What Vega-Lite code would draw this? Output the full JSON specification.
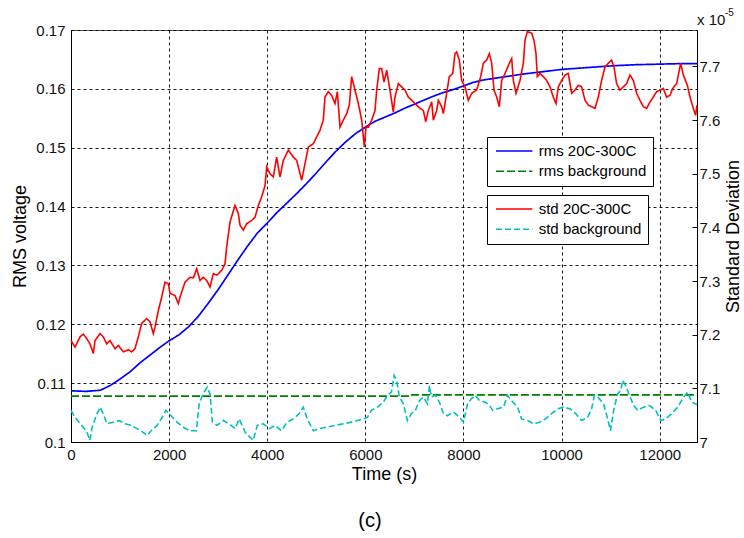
{
  "$schema": "https://vega.github.io/schema/vega-lite/v6.json",
  "width": 626,
  "height": 412,
  "autosize": {"type": "none"},
  "padding": {"left": 71, "top": 30, "right": 47, "bottom": 96},
  "background": "white",
  "title": {
    "text": "(c)",
    "orient": "bottom",
    "anchor": "middle",
    "font": "Liberation Sans",
    "fontSize": 20,
    "fontWeight": "normal",
    "color": "#000000",
    "offset": 28,
    "dx": -14
  },
  "config": {
    "font": "Liberation Sans",
    "view": {"stroke": "#555555", "strokeWidth": 1},
    "axis": {
      "labelFont": "Liberation Sans",
      "labelFontSize": 15,
      "labelColor": "#111111",
      "titleFont": "Liberation Sans",
      "titleFontSize": 18,
      "titleFontWeight": "normal",
      "titleColor": "#000000",
      "domainColor": "#000000",
      "tickColor": "#000000",
      "labelFlush": false
    },
    "legend": {
      "orient": "none",
      "symbolType": "M-2.6,0H2.6",
      "symbolSize": 196,
      "symbolOffset": 13.2,
      "symbolStrokeWidth": 1.6,
      "labelFont": "Liberation Sans",
      "labelFontSize": 15,
      "labelColor": "#000000",
      "labelOffset": 16.5,
      "padding": 6,
      "rowPadding": 4.3,
      "strokeColor": "#000000",
      "fillColor": "#ffffff"
    }
  },
  "datasets": {
    "rms": [
      {"series": "rms 20C-300C", "t": 0, "v": 0.1087},
      {"series": "rms 20C-300C", "t": 300, "v": 0.1086},
      {"series": "rms 20C-300C", "t": 600, "v": 0.1088},
      {"series": "rms 20C-300C", "t": 800, "v": 0.1096},
      {"series": "rms 20C-300C", "t": 1000, "v": 0.1107},
      {"series": "rms 20C-300C", "t": 1200, "v": 0.1119},
      {"series": "rms 20C-300C", "t": 1400, "v": 0.1134},
      {"series": "rms 20C-300C", "t": 1600, "v": 0.1147},
      {"series": "rms 20C-300C", "t": 1800, "v": 0.1160},
      {"series": "rms 20C-300C", "t": 2000, "v": 0.1172},
      {"series": "rms 20C-300C", "t": 2200, "v": 0.1182},
      {"series": "rms 20C-300C", "t": 2400, "v": 0.1196},
      {"series": "rms 20C-300C", "t": 2600, "v": 0.1214},
      {"series": "rms 20C-300C", "t": 2800, "v": 0.1236},
      {"series": "rms 20C-300C", "t": 3000, "v": 0.1259},
      {"series": "rms 20C-300C", "t": 3200, "v": 0.1284},
      {"series": "rms 20C-300C", "t": 3400, "v": 0.1309},
      {"series": "rms 20C-300C", "t": 3600, "v": 0.1333},
      {"series": "rms 20C-300C", "t": 3800, "v": 0.1355},
      {"series": "rms 20C-300C", "t": 4000, "v": 0.1372},
      {"series": "rms 20C-300C", "t": 4200, "v": 0.1390},
      {"series": "rms 20C-300C", "t": 4400, "v": 0.1406},
      {"series": "rms 20C-300C", "t": 4600, "v": 0.1422},
      {"series": "rms 20C-300C", "t": 4800, "v": 0.1439},
      {"series": "rms 20C-300C", "t": 5000, "v": 0.1457},
      {"series": "rms 20C-300C", "t": 5200, "v": 0.1476},
      {"series": "rms 20C-300C", "t": 5400, "v": 0.1494},
      {"series": "rms 20C-300C", "t": 5600, "v": 0.1510},
      {"series": "rms 20C-300C", "t": 5800, "v": 0.1524},
      {"series": "rms 20C-300C", "t": 6000, "v": 0.1535},
      {"series": "rms 20C-300C", "t": 6200, "v": 0.1545},
      {"series": "rms 20C-300C", "t": 6400, "v": 0.1552},
      {"series": "rms 20C-300C", "t": 6600, "v": 0.1559},
      {"series": "rms 20C-300C", "t": 6800, "v": 0.1567},
      {"series": "rms 20C-300C", "t": 7000, "v": 0.1574},
      {"series": "rms 20C-300C", "t": 7200, "v": 0.1581},
      {"series": "rms 20C-300C", "t": 7400, "v": 0.1588},
      {"series": "rms 20C-300C", "t": 7600, "v": 0.1594},
      {"series": "rms 20C-300C", "t": 7800, "v": 0.1599},
      {"series": "rms 20C-300C", "t": 8000, "v": 0.1605},
      {"series": "rms 20C-300C", "t": 8200, "v": 0.1611},
      {"series": "rms 20C-300C", "t": 8400, "v": 0.1615},
      {"series": "rms 20C-300C", "t": 8800, "v": 0.1620},
      {"series": "rms 20C-300C", "t": 9200, "v": 0.1625},
      {"series": "rms 20C-300C", "t": 9600, "v": 0.1629},
      {"series": "rms 20C-300C", "t": 10000, "v": 0.1633},
      {"series": "rms 20C-300C", "t": 10500, "v": 0.1636},
      {"series": "rms 20C-300C", "t": 11000, "v": 0.1639},
      {"series": "rms 20C-300C", "t": 11500, "v": 0.1641},
      {"series": "rms 20C-300C", "t": 12000, "v": 0.1642},
      {"series": "rms 20C-300C", "t": 12500, "v": 0.1643},
      {"series": "rms 20C-300C", "t": 12760, "v": 0.1643},
      {"series": "rms background", "t": 0, "v": 0.1078},
      {"series": "rms background", "t": 6900, "v": 0.1078},
      {"series": "rms background", "t": 6901, "v": 0.1080},
      {"series": "rms background", "t": 12760, "v": 0.1080}
    ],
    "std": [
      {"series": "std 20C-300C", "t": 0, "v": 7.189},
      {"series": "std 20C-300C", "t": 82, "v": 7.177},
      {"series": "std 20C-300C", "t": 183, "v": 7.196},
      {"series": "std 20C-300C", "t": 251, "v": 7.201},
      {"series": "std 20C-300C", "t": 319, "v": 7.193},
      {"series": "std 20C-300C", "t": 387, "v": 7.183},
      {"series": "std 20C-300C", "t": 455, "v": 7.165},
      {"series": "std 20C-300C", "t": 489, "v": 7.189},
      {"series": "std 20C-300C", "t": 591, "v": 7.202},
      {"series": "std 20C-300C", "t": 659, "v": 7.196},
      {"series": "std 20C-300C", "t": 727, "v": 7.183},
      {"series": "std 20C-300C", "t": 795, "v": 7.189},
      {"series": "std 20C-300C", "t": 897, "v": 7.174},
      {"series": "std 20C-300C", "t": 965, "v": 7.180},
      {"series": "std 20C-300C", "t": 1067, "v": 7.168},
      {"series": "std 20C-300C", "t": 1169, "v": 7.172},
      {"series": "std 20C-300C", "t": 1236, "v": 7.168},
      {"series": "std 20C-300C", "t": 1304, "v": 7.174},
      {"series": "std 20C-300C", "t": 1372, "v": 7.196},
      {"series": "std 20C-300C", "t": 1440, "v": 7.221},
      {"series": "std 20C-300C", "t": 1542, "v": 7.230},
      {"series": "std 20C-300C", "t": 1610, "v": 7.224},
      {"series": "std 20C-300C", "t": 1678, "v": 7.202},
      {"series": "std 20C-300C", "t": 1712, "v": 7.214},
      {"series": "std 20C-300C", "t": 1780, "v": 7.245},
      {"series": "std 20C-300C", "t": 1848, "v": 7.270},
      {"series": "std 20C-300C", "t": 1916, "v": 7.298},
      {"series": "std 20C-300C", "t": 1984, "v": 7.295},
      {"series": "std 20C-300C", "t": 2018, "v": 7.277},
      {"series": "std 20C-300C", "t": 2120, "v": 7.273},
      {"series": "std 20C-300C", "t": 2188, "v": 7.258},
      {"series": "std 20C-300C", "t": 2222, "v": 7.270},
      {"series": "std 20C-300C", "t": 2324, "v": 7.298},
      {"series": "std 20C-300C", "t": 2426, "v": 7.307},
      {"series": "std 20C-300C", "t": 2494, "v": 7.306},
      {"series": "std 20C-300C", "t": 2562, "v": 7.323},
      {"series": "std 20C-300C", "t": 2630, "v": 7.301},
      {"series": "std 20C-300C", "t": 2698, "v": 7.307},
      {"series": "std 20C-300C", "t": 2766, "v": 7.301},
      {"series": "std 20C-300C", "t": 2834, "v": 7.289},
      {"series": "std 20C-300C", "t": 2902, "v": 7.314},
      {"series": "std 20C-300C", "t": 2970, "v": 7.311},
      {"series": "std 20C-300C", "t": 3072, "v": 7.320},
      {"series": "std 20C-300C", "t": 3139, "v": 7.332},
      {"series": "std 20C-300C", "t": 3173, "v": 7.363},
      {"series": "std 20C-300C", "t": 3241, "v": 7.410},
      {"series": "std 20C-300C", "t": 3343, "v": 7.441},
      {"series": "std 20C-300C", "t": 3411, "v": 7.426},
      {"series": "std 20C-300C", "t": 3445, "v": 7.404},
      {"series": "std 20C-300C", "t": 3513, "v": 7.395},
      {"series": "std 20C-300C", "t": 3581, "v": 7.407},
      {"series": "std 20C-300C", "t": 3683, "v": 7.413},
      {"series": "std 20C-300C", "t": 3751, "v": 7.419},
      {"series": "std 20C-300C", "t": 3819, "v": 7.441},
      {"series": "std 20C-300C", "t": 3887, "v": 7.457},
      {"series": "std 20C-300C", "t": 3955, "v": 7.478},
      {"series": "std 20C-300C", "t": 3989, "v": 7.513},
      {"series": "std 20C-300C", "t": 4056, "v": 7.500},
      {"series": "std 20C-300C", "t": 4124, "v": 7.494},
      {"series": "std 20C-300C", "t": 4192, "v": 7.531},
      {"series": "std 20C-300C", "t": 4260, "v": 7.494},
      {"series": "std 20C-300C", "t": 4328, "v": 7.525},
      {"series": "std 20C-300C", "t": 4430, "v": 7.544},
      {"series": "std 20C-300C", "t": 4532, "v": 7.531},
      {"series": "std 20C-300C", "t": 4600, "v": 7.525},
      {"series": "std 20C-300C", "t": 4702, "v": 7.488},
      {"series": "std 20C-300C", "t": 4770, "v": 7.519},
      {"series": "std 20C-300C", "t": 4838, "v": 7.550},
      {"series": "std 20C-300C", "t": 4940, "v": 7.556},
      {"series": "std 20C-300C", "t": 5008, "v": 7.569},
      {"series": "std 20C-300C", "t": 5075, "v": 7.581},
      {"series": "std 20C-300C", "t": 5143, "v": 7.600},
      {"series": "std 20C-300C", "t": 5177, "v": 7.643},
      {"series": "std 20C-300C", "t": 5245, "v": 7.653},
      {"series": "std 20C-300C", "t": 5313, "v": 7.646},
      {"series": "std 20C-300C", "t": 5381, "v": 7.631},
      {"series": "std 20C-300C", "t": 5429, "v": 7.653},
      {"series": "std 20C-300C", "t": 5483, "v": 7.587},
      {"series": "std 20C-300C", "t": 5551, "v": 7.600},
      {"series": "std 20C-300C", "t": 5619, "v": 7.612},
      {"series": "std 20C-300C", "t": 5673, "v": 7.628},
      {"series": "std 20C-300C", "t": 5721, "v": 7.681},
      {"series": "std 20C-300C", "t": 5789, "v": 7.656},
      {"series": "std 20C-300C", "t": 5857, "v": 7.631},
      {"series": "std 20C-300C", "t": 5925, "v": 7.600},
      {"series": "std 20C-300C", "t": 5979, "v": 7.550},
      {"series": "std 20C-300C", "t": 6013, "v": 7.587},
      {"series": "std 20C-300C", "t": 6061, "v": 7.587},
      {"series": "std 20C-300C", "t": 6129, "v": 7.600},
      {"series": "std 20C-300C", "t": 6197, "v": 7.618},
      {"series": "std 20C-300C", "t": 6231, "v": 7.656},
      {"series": "std 20C-300C", "t": 6285, "v": 7.696},
      {"series": "std 20C-300C", "t": 6333, "v": 7.696},
      {"series": "std 20C-300C", "t": 6380, "v": 7.671},
      {"series": "std 20C-300C", "t": 6435, "v": 7.693},
      {"series": "std 20C-300C", "t": 6502, "v": 7.656},
      {"series": "std 20C-300C", "t": 6570, "v": 7.615},
      {"series": "std 20C-300C", "t": 6604, "v": 7.643},
      {"series": "std 20C-300C", "t": 6672, "v": 7.668},
      {"series": "std 20C-300C", "t": 6740, "v": 7.662},
      {"series": "std 20C-300C", "t": 6808, "v": 7.656},
      {"series": "std 20C-300C", "t": 6876, "v": 7.643},
      {"series": "std 20C-300C", "t": 6978, "v": 7.634},
      {"series": "std 20C-300C", "t": 7046, "v": 7.628},
      {"series": "std 20C-300C", "t": 7114, "v": 7.622},
      {"series": "std 20C-300C", "t": 7182, "v": 7.618},
      {"series": "std 20C-300C", "t": 7230, "v": 7.597},
      {"series": "std 20C-300C", "t": 7284, "v": 7.618},
      {"series": "std 20C-300C", "t": 7352, "v": 7.634},
      {"series": "std 20C-300C", "t": 7386, "v": 7.600},
      {"series": "std 20C-300C", "t": 7454, "v": 7.618},
      {"series": "std 20C-300C", "t": 7488, "v": 7.637},
      {"series": "std 20C-300C", "t": 7556, "v": 7.625},
      {"series": "std 20C-300C", "t": 7590, "v": 7.612},
      {"series": "std 20C-300C", "t": 7657, "v": 7.650},
      {"series": "std 20C-300C", "t": 7711, "v": 7.681},
      {"series": "std 20C-300C", "t": 7781, "v": 7.687},
      {"series": "std 20C-300C", "t": 7827, "v": 7.724},
      {"series": "std 20C-300C", "t": 7862, "v": 7.727},
      {"series": "std 20C-300C", "t": 7915, "v": 7.712},
      {"series": "std 20C-300C", "t": 7963, "v": 7.674},
      {"series": "std 20C-300C", "t": 8031, "v": 7.662},
      {"series": "std 20C-300C", "t": 8099, "v": 7.637},
      {"series": "std 20C-300C", "t": 8167, "v": 7.650},
      {"series": "std 20C-300C", "t": 8269, "v": 7.656},
      {"series": "std 20C-300C", "t": 8351, "v": 7.681},
      {"series": "std 20C-300C", "t": 8405, "v": 7.706},
      {"series": "std 20C-300C", "t": 8473, "v": 7.712},
      {"series": "std 20C-300C", "t": 8527, "v": 7.724},
      {"series": "std 20C-300C", "t": 8575, "v": 7.706},
      {"series": "std 20C-300C", "t": 8622, "v": 7.656},
      {"series": "std 20C-300C", "t": 8677, "v": 7.643},
      {"series": "std 20C-300C", "t": 8731, "v": 7.625},
      {"series": "std 20C-300C", "t": 8779, "v": 7.674},
      {"series": "std 20C-300C", "t": 8847, "v": 7.687},
      {"series": "std 20C-300C", "t": 8935, "v": 7.706},
      {"series": "std 20C-300C", "t": 8983, "v": 7.715},
      {"series": "std 20C-300C", "t": 9016, "v": 7.674},
      {"series": "std 20C-300C", "t": 9071, "v": 7.650},
      {"series": "std 20C-300C", "t": 9152, "v": 7.674},
      {"series": "std 20C-300C", "t": 9220, "v": 7.706},
      {"series": "std 20C-300C", "t": 9254, "v": 7.749},
      {"series": "std 20C-300C", "t": 9301, "v": 7.765},
      {"series": "std 20C-300C", "t": 9390, "v": 7.762},
      {"series": "std 20C-300C", "t": 9437, "v": 7.749},
      {"series": "std 20C-300C", "t": 9478, "v": 7.724},
      {"series": "std 20C-300C", "t": 9505, "v": 7.681},
      {"series": "std 20C-300C", "t": 9560, "v": 7.687},
      {"series": "std 20C-300C", "t": 9627, "v": 7.681},
      {"series": "std 20C-300C", "t": 9695, "v": 7.674},
      {"series": "std 20C-300C", "t": 9763, "v": 7.662},
      {"series": "std 20C-300C", "t": 9831, "v": 7.643},
      {"series": "std 20C-300C", "t": 9886, "v": 7.631},
      {"series": "std 20C-300C", "t": 9933, "v": 7.662},
      {"series": "std 20C-300C", "t": 10002, "v": 7.674},
      {"series": "std 20C-300C", "t": 10069, "v": 7.684},
      {"series": "std 20C-300C", "t": 10137, "v": 7.687},
      {"series": "std 20C-300C", "t": 10205, "v": 7.650},
      {"series": "std 20C-300C", "t": 10273, "v": 7.656},
      {"series": "std 20C-300C", "t": 10341, "v": 7.665},
      {"series": "std 20C-300C", "t": 10409, "v": 7.662},
      {"series": "std 20C-300C", "t": 10477, "v": 7.637},
      {"series": "std 20C-300C", "t": 10545, "v": 7.628},
      {"series": "std 20C-300C", "t": 10613, "v": 7.625},
      {"series": "std 20C-300C", "t": 10681, "v": 7.622},
      {"series": "std 20C-300C", "t": 10748, "v": 7.643},
      {"series": "std 20C-300C", "t": 10816, "v": 7.674},
      {"series": "std 20C-300C", "t": 10884, "v": 7.699},
      {"series": "std 20C-300C", "t": 10952, "v": 7.706},
      {"series": "std 20C-300C", "t": 11020, "v": 7.712},
      {"series": "std 20C-300C", "t": 11068, "v": 7.699},
      {"series": "std 20C-300C", "t": 11122, "v": 7.668},
      {"series": "std 20C-300C", "t": 11190, "v": 7.656},
      {"series": "std 20C-300C", "t": 11258, "v": 7.662},
      {"series": "std 20C-300C", "t": 11326, "v": 7.668},
      {"series": "std 20C-300C", "t": 11394, "v": 7.684},
      {"series": "std 20C-300C", "t": 11462, "v": 7.674},
      {"series": "std 20C-300C", "t": 11530, "v": 7.650},
      {"series": "std 20C-300C", "t": 11598, "v": 7.637},
      {"series": "std 20C-300C", "t": 11666, "v": 7.625},
      {"series": "std 20C-300C", "t": 11734, "v": 7.622},
      {"series": "std 20C-300C", "t": 11802, "v": 7.634},
      {"series": "std 20C-300C", "t": 11869, "v": 7.643},
      {"series": "std 20C-300C", "t": 11937, "v": 7.653},
      {"series": "std 20C-300C", "t": 12019, "v": 7.656},
      {"series": "std 20C-300C", "t": 12073, "v": 7.659},
      {"series": "std 20C-300C", "t": 12141, "v": 7.643},
      {"series": "std 20C-300C", "t": 12209, "v": 7.646},
      {"series": "std 20C-300C", "t": 12264, "v": 7.659},
      {"series": "std 20C-300C", "t": 12345, "v": 7.668},
      {"series": "std 20C-300C", "t": 12427, "v": 7.706},
      {"series": "std 20C-300C", "t": 12481, "v": 7.684},
      {"series": "std 20C-300C", "t": 12563, "v": 7.665},
      {"series": "std 20C-300C", "t": 12617, "v": 7.643},
      {"series": "std 20C-300C", "t": 12685, "v": 7.622},
      {"series": "std 20C-300C", "t": 12733, "v": 7.609},
      {"series": "std 20C-300C", "t": 12760, "v": 7.628},
      {"series": "std background", "t": 0, "v": 7.059},
      {"series": "std background", "t": 82, "v": 7.046},
      {"series": "std background", "t": 163, "v": 7.037},
      {"series": "std background", "t": 245, "v": 7.028},
      {"series": "std background", "t": 327, "v": 7.018},
      {"series": "std background", "t": 384, "v": 7.003},
      {"series": "std background", "t": 433, "v": 7.028},
      {"series": "std background", "t": 531, "v": 7.053},
      {"series": "std background", "t": 596, "v": 7.065},
      {"series": "std background", "t": 653, "v": 7.053},
      {"series": "std background", "t": 735, "v": 7.034},
      {"series": "std background", "t": 857, "v": 7.037},
      {"series": "std background", "t": 980, "v": 7.040},
      {"series": "std background", "t": 1102, "v": 7.034},
      {"series": "std background", "t": 1224, "v": 7.031},
      {"series": "std background", "t": 1347, "v": 7.025},
      {"series": "std background", "t": 1469, "v": 7.018},
      {"series": "std background", "t": 1551, "v": 7.012},
      {"series": "std background", "t": 1633, "v": 7.021},
      {"series": "std background", "t": 1755, "v": 7.031},
      {"series": "std background", "t": 1878, "v": 7.049},
      {"series": "std background", "t": 1935, "v": 7.059},
      {"series": "std background", "t": 2041, "v": 7.049},
      {"series": "std background", "t": 2163, "v": 7.037},
      {"series": "std background", "t": 2286, "v": 7.028},
      {"series": "std background", "t": 2408, "v": 7.021},
      {"series": "std background", "t": 2555, "v": 7.021},
      {"series": "std background", "t": 2612, "v": 7.071},
      {"series": "std background", "t": 2694, "v": 7.090},
      {"series": "std background", "t": 2776, "v": 7.102},
      {"series": "std background", "t": 2833, "v": 7.090},
      {"series": "std background", "t": 2882, "v": 7.037},
      {"series": "std background", "t": 2980, "v": 7.031},
      {"series": "std background", "t": 3102, "v": 7.040},
      {"series": "std background", "t": 3224, "v": 7.034},
      {"series": "std background", "t": 3347, "v": 7.025},
      {"series": "std background", "t": 3429, "v": 7.043},
      {"series": "std background", "t": 3551, "v": 7.018},
      {"series": "std background", "t": 3649, "v": 7.009},
      {"series": "std background", "t": 3714, "v": 7.003},
      {"series": "std background", "t": 3796, "v": 7.031},
      {"series": "std background", "t": 3918, "v": 7.034},
      {"series": "std background", "t": 4041, "v": 7.025},
      {"series": "std background", "t": 4163, "v": 7.031},
      {"series": "std background", "t": 4286, "v": 7.021},
      {"series": "std background", "t": 4408, "v": 7.037},
      {"series": "std background", "t": 4531, "v": 7.043},
      {"series": "std background", "t": 4653, "v": 7.053},
      {"series": "std background", "t": 4735, "v": 7.065},
      {"series": "std background", "t": 4816, "v": 7.043},
      {"series": "std background", "t": 4939, "v": 7.021},
      {"series": "std background", "t": 5061, "v": 7.025},
      {"series": "std background", "t": 5224, "v": 7.028},
      {"series": "std background", "t": 5388, "v": 7.031},
      {"series": "std background", "t": 5551, "v": 7.034},
      {"series": "std background", "t": 5714, "v": 7.037},
      {"series": "std background", "t": 5837, "v": 7.040},
      {"series": "std background", "t": 5959, "v": 7.043},
      {"series": "std background", "t": 6041, "v": 7.046},
      {"series": "std background", "t": 6122, "v": 7.059},
      {"series": "std background", "t": 6245, "v": 7.065},
      {"series": "std background", "t": 6367, "v": 7.074},
      {"series": "std background", "t": 6449, "v": 7.087},
      {"series": "std background", "t": 6531, "v": 7.093},
      {"series": "std background", "t": 6588, "v": 7.124},
      {"series": "std background", "t": 6637, "v": 7.115},
      {"series": "std background", "t": 6694, "v": 7.084},
      {"series": "std background", "t": 6776, "v": 7.071},
      {"series": "std background", "t": 6857, "v": 7.040},
      {"series": "std background", "t": 6939, "v": 7.053},
      {"series": "std background", "t": 7020, "v": 7.059},
      {"series": "std background", "t": 7102, "v": 7.077},
      {"series": "std background", "t": 7184, "v": 7.084},
      {"series": "std background", "t": 7265, "v": 7.071},
      {"series": "std background", "t": 7306, "v": 7.105},
      {"series": "std background", "t": 7347, "v": 7.084},
      {"series": "std background", "t": 7429, "v": 7.087},
      {"series": "std background", "t": 7510, "v": 7.074},
      {"series": "std background", "t": 7592, "v": 7.053},
      {"series": "std background", "t": 7673, "v": 7.049},
      {"series": "std background", "t": 7796, "v": 7.056},
      {"series": "std background", "t": 7918, "v": 7.046},
      {"series": "std background", "t": 8000, "v": 7.037},
      {"series": "std background", "t": 8082, "v": 7.071},
      {"series": "std background", "t": 8163, "v": 7.081},
      {"series": "std background", "t": 8245, "v": 7.087},
      {"series": "std background", "t": 8327, "v": 7.077},
      {"series": "std background", "t": 8449, "v": 7.074},
      {"series": "std background", "t": 8531, "v": 7.068},
      {"series": "std background", "t": 8596, "v": 7.059},
      {"series": "std background", "t": 8694, "v": 7.062},
      {"series": "std background", "t": 8816, "v": 7.065},
      {"series": "std background", "t": 8898, "v": 7.087},
      {"series": "std background", "t": 8980, "v": 7.077},
      {"series": "std background", "t": 9102, "v": 7.065},
      {"series": "std background", "t": 9184, "v": 7.043},
      {"series": "std background", "t": 9306, "v": 7.040},
      {"series": "std background", "t": 9429, "v": 7.034},
      {"series": "std background", "t": 9551, "v": 7.037},
      {"series": "std background", "t": 9673, "v": 7.043},
      {"series": "std background", "t": 9796, "v": 7.053},
      {"series": "std background", "t": 9918, "v": 7.062},
      {"series": "std background", "t": 10041, "v": 7.065},
      {"series": "std background", "t": 10163, "v": 7.062},
      {"series": "std background", "t": 10286, "v": 7.053},
      {"series": "std background", "t": 10408, "v": 7.040},
      {"series": "std background", "t": 10531, "v": 7.046},
      {"series": "std background", "t": 10612, "v": 7.062},
      {"series": "std background", "t": 10669, "v": 7.087},
      {"series": "std background", "t": 10735, "v": 7.084},
      {"series": "std background", "t": 10857, "v": 7.071},
      {"series": "std background", "t": 10939, "v": 7.043},
      {"series": "std background", "t": 10996, "v": 7.021},
      {"series": "std background", "t": 11061, "v": 7.059},
      {"series": "std background", "t": 11143, "v": 7.090},
      {"series": "std background", "t": 11208, "v": 7.096},
      {"series": "std background", "t": 11241, "v": 7.115},
      {"series": "std background", "t": 11306, "v": 7.105},
      {"series": "std background", "t": 11371, "v": 7.090},
      {"series": "std background", "t": 11469, "v": 7.068},
      {"series": "std background", "t": 11551, "v": 7.059},
      {"series": "std background", "t": 11673, "v": 7.065},
      {"series": "std background", "t": 11796, "v": 7.068},
      {"series": "std background", "t": 11918, "v": 7.059},
      {"series": "std background", "t": 12024, "v": 7.040},
      {"series": "std background", "t": 12122, "v": 7.043},
      {"series": "std background", "t": 12245, "v": 7.053},
      {"series": "std background", "t": 12367, "v": 7.065},
      {"series": "std background", "t": 12490, "v": 7.084},
      {"series": "std background", "t": 12571, "v": 7.093},
      {"series": "std background", "t": 12653, "v": 7.074},
      {"series": "std background", "t": 12714, "v": 7.072},
      {"series": "std background", "t": 12760, "v": 7.070}
    ]
  },
  "layer": [
    {
      "data": {"name": "rms"},
      "mark": {"type": "line", "strokeWidth": 1.7},
      "encoding": {
        "x": {
          "field": "t",
          "type": "quantitative",
          "scale": {"domain": [0, 12760], "nice": false, "zero": false},
          "axis": {
            "title": "Time (s)",
            "values": [0, 2000, 4000, 6000, 8000, 10000, 12000],
            "format": "d",
            "grid": true,
            "gridDash": [3, 3],
            "gridColor": "#000000",
            "gridOpacity": 0.9,
            "ticks": false,
            "labelPadding": 5,
            "titlePadding": 3
          }
        },
        "y": {
          "field": "v",
          "type": "quantitative",
          "scale": {"domain": [0.1, 0.17], "nice": false, "zero": false},
          "axis": {
            "title": "RMS voltage",
            "orient": "left",
            "values": [0.1, 0.11, 0.12, 0.13, 0.14, 0.15, 0.16, 0.17],
            "format": ".2~f",
            "grid": true,
            "gridDash": [3, 3],
            "gridColor": "#000000",
            "gridOpacity": 0.9,
            "ticks": false,
            "labelPadding": 6,
            "titlePadding": 6
          }
        },
        "color": {
          "field": "series",
          "type": "nominal",
          "scale": {"domain": ["rms 20C-300C", "rms background"], "range": ["#0000ff", "#008000"]},
          "legend": {"title": null, "legendX": 416, "legendY": 107}
        },
        "strokeDash": {
          "field": "series",
          "type": "nominal",
          "scale": {"domain": ["rms 20C-300C", "rms background"], "range": [[1, 0], [8, 3]]},
          "legend": {"title": null, "legendX": 416, "legendY": 107}
        }
      }
    },
    {
      "data": {"name": "std"},
      "mark": {"type": "line", "strokeWidth": 1.6},
      "encoding": {
        "x": {
          "field": "t",
          "type": "quantitative",
          "scale": {"domain": [0, 12760], "nice": false, "zero": false},
          "axis": {
            "title": "Time (s)",
            "values": [0, 2000, 4000, 6000, 8000, 10000, 12000],
            "format": "d",
            "grid": true,
            "gridDash": [3, 3],
            "gridColor": "#000000",
            "gridOpacity": 0.9,
            "ticks": false,
            "labelPadding": 5,
            "titlePadding": 3
          }
        },
        "y": {
          "field": "v",
          "type": "quantitative",
          "scale": {"domain": [7, 7.768], "nice": false, "zero": false},
          "axis": {
            "title": "Standard Deviation",
            "orient": "right",
            "values": [7, 7.1, 7.2, 7.3, 7.4, 7.5, 7.6, 7.7],
            "format": ".1~f",
            "grid": false,
            "ticks": true,
            "tickSize": -5,
            "labelPadding": 7,
            "titlePadding": 5,
            "titleAngle": 270,
            "titleBaseline": "top"
          }
        },
        "color": {
          "field": "series",
          "type": "nominal",
          "scale": {"domain": ["std 20C-300C", "std background"], "range": ["#ff0000", "#00bfbf"]},
          "legend": {"title": null, "legendX": 416, "legendY": 165}
        },
        "strokeDash": {
          "field": "series",
          "type": "nominal",
          "scale": {"domain": ["std 20C-300C", "std background"], "range": [[1, 0], [6, 3]]},
          "legend": {"title": null, "legendX": 416, "legendY": 165}
        }
      }
    },
    {
      "data": {"values": [{}]},
      "mark": {"type": "text", "text": "x 10", "align": "left", "baseline": "alphabetic", "dx": 0, "dy": -5, "font": "Liberation Sans", "fontSize": 15, "color": "#111111"},
      "encoding": {
        "x": {
          "datum": 12760,
          "type": "quantitative",
          "axis": {
            "title": "Time (s)",
            "values": [0, 2000, 4000, 6000, 8000, 10000, 12000],
            "format": "d",
            "grid": true,
            "gridDash": [3, 3],
            "gridColor": "#000000",
            "gridOpacity": 0.9,
            "ticks": false,
            "labelPadding": 5,
            "titlePadding": 3
          }
        },
        "y": {"datum": 0.17, "type": "quantitative", "scale": {"domain": [0.1, 0.17], "nice": false, "zero": false}, "axis": null}
      }
    },
    {
      "data": {"values": [{}]},
      "mark": {"type": "text", "text": "-5", "align": "left", "baseline": "alphabetic", "dx": 28, "dy": -14, "font": "Liberation Sans", "fontSize": 10, "color": "#111111"},
      "encoding": {
        "x": {
          "datum": 12760,
          "type": "quantitative",
          "axis": {
            "title": "Time (s)",
            "values": [0, 2000, 4000, 6000, 8000, 10000, 12000],
            "format": "d",
            "grid": true,
            "gridDash": [3, 3],
            "gridColor": "#000000",
            "gridOpacity": 0.9,
            "ticks": false,
            "labelPadding": 5,
            "titlePadding": 3
          }
        },
        "y": {"datum": 0.17, "type": "quantitative", "scale": {"domain": [0.1, 0.17], "nice": false, "zero": false}, "axis": null}
      }
    }
  ],
  "resolve": {"scale": {"y": "independent", "color": "independent", "strokeDash": "independent"}}
}
